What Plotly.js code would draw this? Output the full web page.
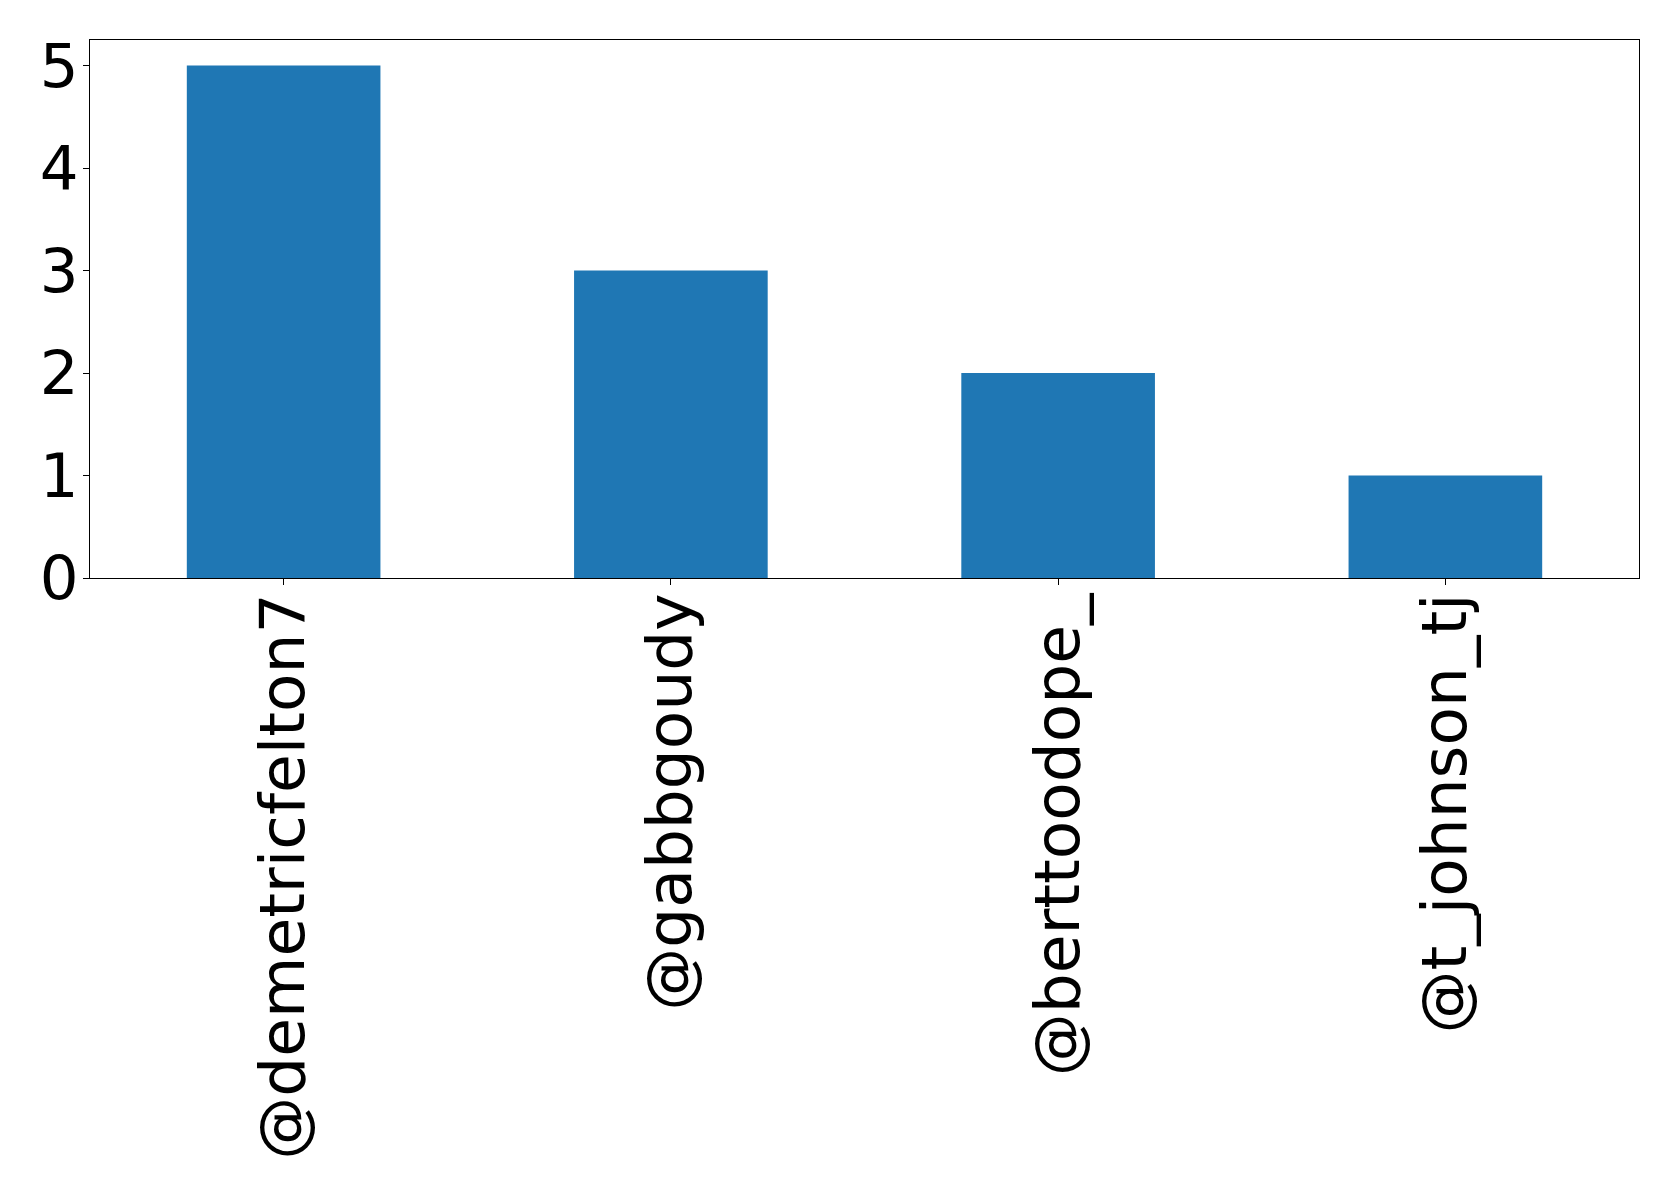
<!DOCTYPE html>
<html>
<head>
<meta charset="utf-8">
<script src="https://cdn.plot.ly/plotly-3.0.1.min.js"></script>
<style>
  html, body { margin: 0; padding: 0; background: #fff; }
  #chart { width: 1679px; height: 1190px; }
</style>
</head>
<body>
<div id="chart"></div>
<script>
// Mention counts per account
const accounts = ['@demetricfelton7', '@gabbgoudy', '@berttoodope_', '@t_johnson_tj'];
const mentions = [5, 3, 2, 1];
const yTicks = [0, 1, 2, 3, 4, 5];

const trace = {
  type: 'bar',
  x: accounts,
  y: mentions,
  width: 0.5,
  marker: { color: '#1f77b4', line: { width: 0 } },
  hoverinfo: 'x+y'
};

const xFont = { family: 'DejaVu Sans, sans-serif', size: 63, color: '#000' };
const yFont = { family: 'DejaVu Sans, sans-serif', size: 61, color: '#000' };

const layout = {
  width: 1679,
  height: 1190,
  margin: { l: 90, r: 40, t: 40, b: 612, pad: 0 },
  paper_bgcolor: '#fff',
  plot_bgcolor: '#fff',
  showlegend: false,
  bargap: 0.5,
  xaxis: {
    type: 'category',
    range: [-0.5, 3.5],
    tickangle: -90,
    ticks: 'outside',
    ticklen: 6,
    tickwidth: 1,
    tickcolor: '#000',
    tickfont: xFont,
    ticklabelstandoff: -17,
    showline: true,
    linecolor: '#000',
    linewidth: 1.2,
    mirror: true,
    showgrid: false,
    zeroline: false,
    fixedrange: true
  },
  yaxis: {
    range: [0, 5.25],
    tickvals: yTicks,
    ticktext: yTicks.map(String),
    ticks: 'outside',
    ticklen: 6,
    tickwidth: 1,
    tickcolor: '#000',
    tickfont: yFont,
    ticklabelstandoff: -8,
    showline: true,
    linecolor: '#000',
    linewidth: 1.2,
    mirror: true,
    showgrid: false,
    zeroline: false,
    fixedrange: true
  }
};

Plotly.newPlot('chart', [trace], layout, { displayModeBar: false, staticPlot: true });
</script>
</body>
</html>
